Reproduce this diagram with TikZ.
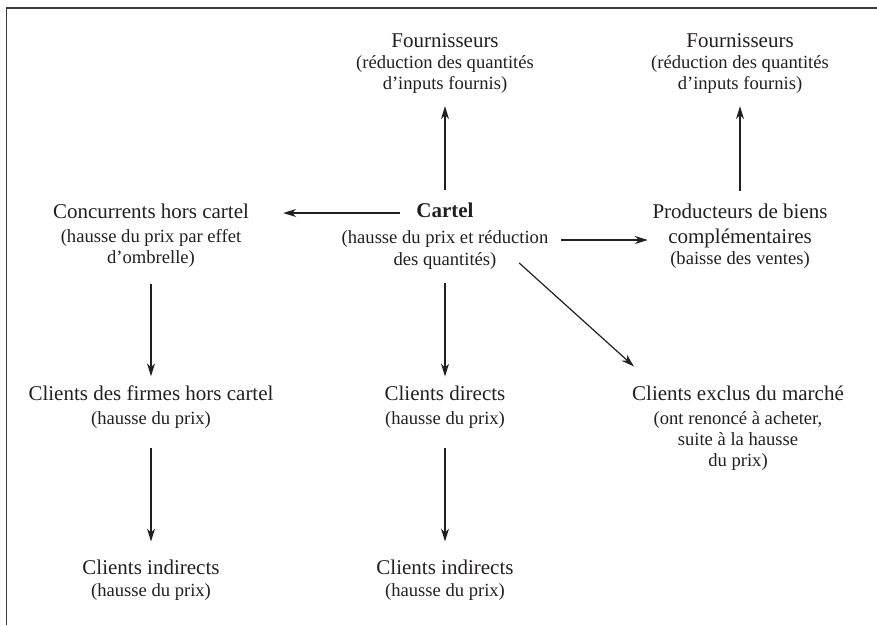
\documentclass[tikz,border=0pt]{standalone}
\usepackage{fontspec}
\setmainfont{Liberation Serif}
\usetikzlibrary{arrows.meta}
\definecolor{ink}{HTML}{231F20}
\definecolor{framec}{HTML}{3A3A3A}
\begin{document}
\begin{tikzpicture}[x=1pt,y=-1pt,
  ttl/.style={font=\fontsize{21}{25}\selectfont, inner sep=0pt, anchor=base, text=ink},
  ttlb/.style={ttl, font=\fontsize{21}{25}\selectfont\bfseries},
  sub/.style={font=\fontsize{18.6}{21}\selectfont, inner sep=0pt, anchor=base, text=ink},
  arr/.style={draw=ink, line width=1.2pt, -{Stealth[length=13pt,width=8pt,inset=4pt]}}]
\useasboundingbox (0,0) rectangle (877,625);
\draw[framec, line width=1.5pt] (6.5,625) -- (6.5,8) -- (877,8);

% top row
\node[ttl] (f1a) at (445,47) {Fournisseurs};
\node[sub] (f1b) at (445,68) {(réduction des quantités};
\node[sub] (f1c) at (445,89) {d’inputs fournis)};
\node[ttl] (f2a) at (740,47) {Fournisseurs};
\node[sub] (f2b) at (740,68) {(réduction des quantités};
\node[sub] (f2c) at (740,89) {d’inputs fournis)};

% second row
\node[ttl] (coA) at (151,218) {Concurrents hors cartel};
\node[sub] (coB) at (151,242) {(hausse du prix par effet};
\node[sub] (coC) at (151,263) {d’ombrelle)};
\node[ttlb] (caA) at (445,217) {Cartel};
\node[sub] (caB) at (445,243) {(hausse du prix et réduction};
\node[sub] (caC) at (445,265) {des quantités)};
\node[ttl] (prA) at (740,218) {Producteurs de biens};
\node[ttl] (prB) at (740,243) {complémentaires};
\node[sub] (prC) at (740,264) {(baisse des ventes)};

% third row
\node[ttl] (cfA) at (151,400) {Clients des firmes hors cartel};
\node[sub] (cfB) at (151,424) {(hausse du prix)};
\node[ttl] (cdA) at (445,400) {Clients directs};
\node[sub] (cdB) at (445,424) {(hausse du prix)};
\node[ttl] (ceA) at (738,400) {Clients exclus du marché};
\node[sub] (ceB) at (738,424) {(ont renoncé à acheter,};
\node[sub] (ceC) at (738,445) {suite à la hausse};
\node[sub] (ceD) at (738,466) {du prix)};

% bottom row
\node[ttl] (ciA) at (151,574) {Clients indirects};
\node[sub] (ciB) at (151,596) {(hausse du prix)};
\node[ttl] (cjA) at (445,574) {Clients indirects};
\node[sub] (cjB) at (445,596) {(hausse du prix)};

% connectors
\draw[arr, shorten <=11.8pt, shorten >=13pt] (caA.north) -- (f1c.south);
\draw[arr, shorten <=12.7pt, shorten >=13pt] (prA.north) -- (f2c.south);
\draw[arr, shorten <=16.4pt, shorten >=34pt] ([yshift=4pt]caA.base west) -- ([yshift=5pt]coA.base east);
\draw[arr, shorten <=12.7pt, shorten >=20.3pt] ([yshift=3pt]caB.base east) -- ([yshift=3pt]prB.base west);
\draw[arr] ([xshift=22.6pt,yshift=2pt]caC.base east) -- ([xshift=2pt,yshift=18.7pt]ceA.north west);
\draw[arr, shorten <=16.5pt, shorten >=8.7pt] (coC.south) -- (cfA.north);
\draw[arr, shorten <=14pt, shorten >=8.7pt] (caC.south) -- (cdA.north);
\draw[arr, shorten <=20pt, shorten >=17.7pt] (cfB.south) -- (ciA.north);
\draw[arr, shorten <=20pt, shorten >=17.7pt] (cdB.south) -- (cjA.north);
\end{tikzpicture}
\end{document}
